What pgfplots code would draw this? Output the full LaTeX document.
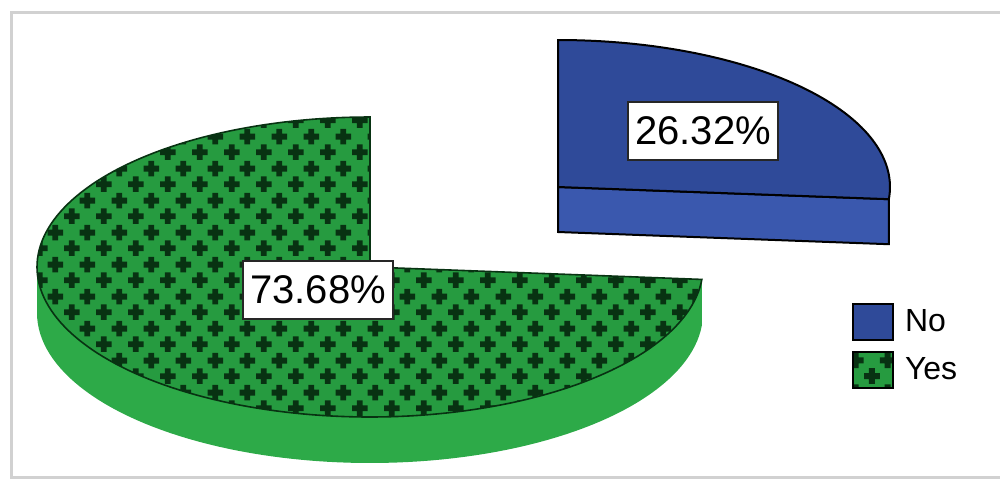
\documentclass[border=0pt]{standalone}
\usepackage{fontspec}
\setmainfont{Liberation Sans}
\usepackage{pgfplots}
\pgfplotsset{compat=1.18}
\usepgfplotslibrary{fillbetween}
\usetikzlibrary{patterns}

\definecolor{bluetop}{RGB}{47,74,153}
\definecolor{blueside}{RGB}{58,88,174}
\definecolor{greentop}{RGB}{38,155,64}
\definecolor{greenside}{RGB}{45,170,72}
\definecolor{greendark}{RGB}{8,50,18}

\pgfdeclarepatternformonly{plusgrid}{\pgfqpoint{0pt}{0pt}}{\pgfqpoint{16pt}{16pt}}{\pgfqpoint{16pt}{16pt}}{%
  \pgfpathrectangle{\pgfqpoint{0pt}{2.5pt}}{\pgfqpoint{8pt}{3pt}}%
  \pgfpathrectangle{\pgfqpoint{2.5pt}{0pt}}{\pgfqpoint{3pt}{8pt}}%
  \pgfpathrectangle{\pgfqpoint{8pt}{10.5pt}}{\pgfqpoint{8pt}{3pt}}%
  \pgfpathrectangle{\pgfqpoint{10.5pt}{8pt}}{\pgfqpoint{3pt}{8pt}}%
  \pgfusepath{fill}}

% data (percent)
\def\valNo{26.32}
\def\valYes{73.68}
\pgfmathsetmacro\cut{90-3.6*\valNo}   % end of "No" slice, clockwise from 12 o'clock
\pgfmathsetmacro\cutg{\cut+3.6*\valYes+3.6*\valNo-360+360}

\begin{document}
\begin{tikzpicture}
\begin{axis}[
  width=500pt, height=239.5pt, scale only axis,
  xmin=0, xmax=1000, ymin=0, ymax=479,
  hide axis, clip=false,
  legend style={at={(0.852,0.3674)}, anchor=north west, draw=none, fill=none,
    inner sep=0pt, outer sep=0pt, font=\fontsize{16}{19}\selectfont,
    row sep=5pt, nodes={inner sep=0pt}},
  legend cell align=left,
]
% frame
\draw[black!18, line width=1.5pt] (axis cs:11,2) rectangle (axis cs:1012,467);

% ---- No (exploded) ----
\addplot[forget plot, fill=blueside, draw=black, line width=1pt]
  coordinates {(558,292) (888.9,279.8) (888.9,234.8) (558,247)} -- cycle;
\addplot[forget plot, fill=bluetop, draw=black, line width=1pt,
  domain=\cut:90, samples=90, variable=\t]
  ({558+332*cos(\t)},{292+147*sin(\t)}) -- (axis cs:558,292) -- cycle;

% ---- Yes ----
\addplot[forget plot, draw=none, name path=gtop, domain=180:\cutg, samples=90, variable=\t]
  ({370+333*cos(\t)},{212+150*sin(\t)});
\addplot[forget plot, draw=none, name path=gbot, domain=180:\cutg, samples=90, variable=\t]
  ({370+333*cos(\t)},{166+150*sin(\t)});
\addplot[forget plot, fill=greenside] fill between[of=gtop and gbot];

\addplot[forget plot, fill=greentop, draw=none, domain=90:\cutg, samples=160, variable=\t]
  ({370+333*cos(\t)},{212+150*sin(\t)}) -- (axis cs:370,212) -- cycle;
\addplot[forget plot, pattern=plusgrid, pattern color=greendark, draw=greendark, line width=0.8pt,
  domain=90:\cutg, samples=160, variable=\t]
  ({370+333*cos(\t)},{212+150*sin(\t)}) -- (axis cs:370,212) -- cycle;

% labels
\node[draw=black!85, line width=1pt, fill=white, inner sep=0pt, minimum width=75pt,
  minimum height=29pt, font=\fontsize{20}{24}\selectfont] at (axis cs:318,189) {73.68\%};
\node[draw=black!85, line width=1pt, fill=white, inner sep=0pt, minimum width=75pt,
  minimum height=29pt, font=\fontsize{20}{24}\selectfont] at (axis cs:703,348) {26.32\%};

% legend
\addlegendimage{legend image code/.code={\draw[fill=bluetop, draw=black, line width=1pt] (0pt,-9pt) rectangle (20pt,9pt);}}
\addlegendentry{\hspace{5.5pt}No}
\addlegendimage{legend image code/.code={%
  \fill[greentop] (0pt,-9pt) rectangle (20pt,9pt);
  \fill[pattern=plusgrid, pattern color=greendark] (0pt,-9pt) rectangle (20pt,9pt);
  \draw[black, line width=1pt] (0pt,-9pt) rectangle (20pt,9pt);}}
\addlegendentry{\hspace{5.5pt}Yes}
\end{axis}
\pgfresetboundingbox
\path (0,0) rectangle (500pt,239.5pt);
\end{tikzpicture}
\end{document}
